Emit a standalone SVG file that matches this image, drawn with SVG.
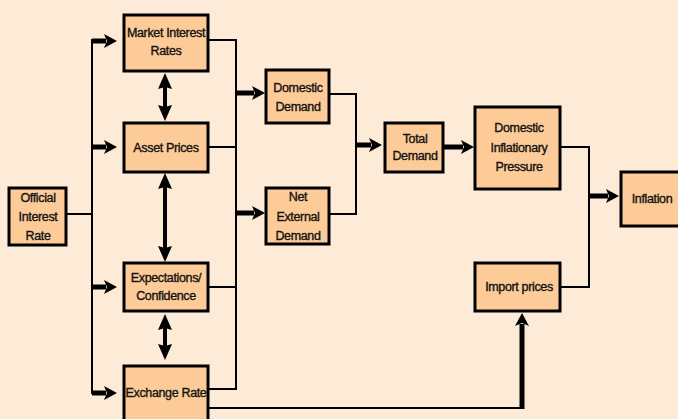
<svg xmlns="http://www.w3.org/2000/svg" width="678" height="419" viewBox="0 0 678 419">
<defs>
<style>
.box{fill:#FDCB98;stroke:#000;stroke-width:3}
.t{font-family:"Liberation Sans",Arial,sans-serif;font-size:12.5px;letter-spacing:-0.35px;fill:#111;stroke:#111;stroke-width:0.35px;text-anchor:middle}
.ln{fill:none;stroke:#000;stroke-width:2}
.ar{fill:none;stroke:#000;stroke-width:5;marker-end:url(#ah)}
.dar{fill:none;stroke:#000;stroke-width:4;marker-end:url(#ah2);marker-start:url(#ah2)}
</style>
<marker id="ah" markerUnits="userSpaceOnUse" markerWidth="14" markerHeight="14" viewBox="0 0 13 14" refX="2" refY="7" orient="auto">
<path d="M0,0 L13,7 L0,14 L3,7 z" fill="#000"/>
</marker>
<marker id="ah2" markerUnits="userSpaceOnUse" markerWidth="16" markerHeight="14" viewBox="0 0 16 14" refX="3" refY="7" orient="auto-start-reverse">
<path d="M0,0 L16,7 L0,14 L2,7 z" fill="#000"/>
</marker>
</defs>
<rect width="678" height="419" fill="#FDEBD8"/>
<g id="connectors">
<path class="ln" d="M66,214 H92 M92,39 V394"/>
<path class="ar" d="M92,41 H106"/>
<path class="ar" d="M92,147 H106"/>
<path class="ar" d="M92,287 H106"/>
<path class="ar" d="M92,393 H106"/>
<path class="dar" d="M165,86 V108"/>
<path class="dar" d="M165,186 V249"/>
<path class="dar" d="M165,327 V347"/>
<path class="ln" d="M208,40 H237 M208,147 H237 M208,287 H237 M208,389 H237 M236,39 V390"/>
<path class="ar" d="M236,93 H254"/>
<path class="ar" d="M236,213 H254"/>
<path class="ln" d="M329,94 H357 M329,214 H357 M356,93 V215"/>
<path class="ar" d="M356,145 H371"/>
<path class="ar" d="M443,147 H463"/>
<path class="ln" d="M560,147 H590 M560,287 H590 M589,146 V288"/>
<path class="ar" d="M589,196 H608"/>
<path class="ln" d="M208,408 H523"/>
<path class="ar" d="M522,409 V324"/>
</g>
<g id="official"><rect class="box" x="9" y="188" width="57" height="57"/><text class="t" x="38" y="202">Official</text><text class="t" x="38" y="221">Interest</text><text class="t" x="38" y="240">Rate</text></g>
<g id="market"><rect class="box" x="124" y="15" width="84" height="56"/><text class="t" x="166" y="37">Market Interest</text><text class="t" x="166" y="55">Rates</text></g>
<g id="asset"><rect class="box" x="124" y="123" width="84" height="49"/><text class="t" x="166" y="152">Asset Prices</text></g>
<g id="expectations"><rect class="box" x="124" y="263" width="84" height="48"/><text class="t" x="166" y="282">Expectations/</text><text class="t" x="166" y="300">Confidence</text></g>
<g id="exchange"><rect class="box" x="124" y="366" width="84" height="56"/><text class="t" x="166" y="397">Exchange Rate</text></g>
<g id="domestic"><rect class="box" x="266" y="70" width="63" height="53"/><text class="t" x="298" y="92">Domestic</text><text class="t" x="298" y="111">Demand</text></g>
<g id="netext"><rect class="box" x="266" y="188" width="63" height="56"/><text class="t" x="298" y="201">Net</text><text class="t" x="298" y="221">External</text><text class="t" x="298" y="240">Demand</text></g>
<g id="total"><rect class="box" x="385" y="123" width="58" height="49"/><text class="t" x="415" y="143">Total</text><text class="t" x="415" y="160">Demand</text></g>
<g id="dip"><rect class="box" x="475" y="107" width="85" height="82"/><text class="t" x="519" y="132">Domestic</text><text class="t" x="519" y="152">Inflationary</text><text class="t" x="519" y="171">Pressure</text></g>
<g id="import"><rect class="box" x="475" y="263" width="85" height="48"/><text class="t" x="519" y="291">Import prices</text></g>
<g id="inflation"><rect class="box" x="621" y="172" width="60" height="54"/><text class="t" x="652" y="203">Inflation</text></g>
</svg>
